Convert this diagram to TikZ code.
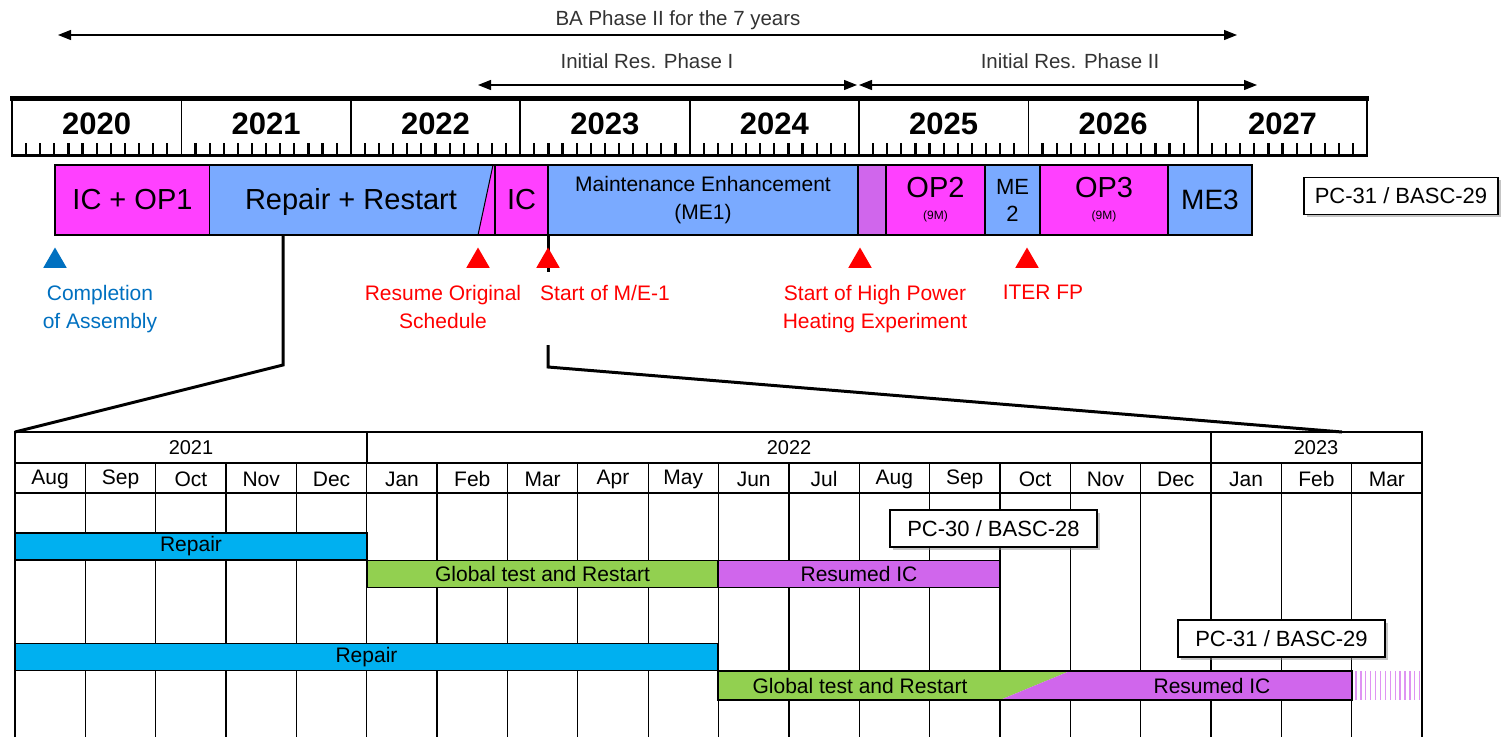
\documentclass[tikz,border=0pt]{standalone}
\usepackage{fontspec}
\setmainfont{Liberation Sans}
\usepackage{xcolor}
\usetikzlibrary{arrows.meta,calc,positioning,shapes.geometric,shadows}
\definecolor{opmag}{RGB}{255,64,255}
\definecolor{meblue}{RGB}{122,170,255}
\definecolor{icviolet}{RGB}{208,102,236}
\definecolor{repcyan}{RGB}{0,176,240}
\definecolor{gtgreen}{RGB}{146,208,80}
\definecolor{asmblue}{RGB}{0,112,192}

\begin{document}
\begin{tikzpicture}[x=1pt, y=-1pt, >={Triangle[length=13pt,width=10pt]},
  durarrow/.style={<->, line width=1.2pt},
  toplbl/.style={font=\fontsize{20.5}{24}\selectfont, text=black!80, inner sep=0pt},
  phase/.style={draw, line width=1.6pt, minimum height=70pt, inner sep=0pt, font=\fontsize{29}{30}\selectfont},
  milestone/.style={regular polygon, regular polygon sides=3, inner sep=0pt, minimum size=27pt},
  msl/.style={font=\fontsize{21}{28}\selectfont, align=center, inner sep=0pt, anchor=north},
  zoomline/.style={line width=3pt},
  tabline/.style={line width=1.3pt},
  bar/.style={draw, line width=1.3pt, minimum height=27pt, inner sep=0pt, font=\fontsize{21}{21}\selectfont},
  pcbox/.style={draw, line width=1.3pt, fill=white, minimum width=207pt, minimum height=37pt, inner sep=0pt,
    font=\fontsize{22}{22}\selectfont, drop shadow={shadow xshift=2.5pt, shadow yshift=-2.5pt, fill=black!45}}]
  \useasboundingbox (0,0) rectangle (1501,737);
  % spans over the top
  \coordinate (baL) at (58,35);
  \coordinate (baR) at (1237,35);
  \coordinate (ph1L) at (478,85);
  \coordinate (ph1R) at (857,85);
  \coordinate (ph2L) at (859,85);
  \coordinate (ph2R) at (1257,85);
  \draw[durarrow] (baL) -- (baR);
  \draw[durarrow] (ph1L) -- (ph1R);
  \draw[durarrow] (ph2L) -- (ph2R);
  \node[toplbl] (batxt) at (678,20) {BA Phase II for the 7 years};
  \node[toplbl] (ph1txt) at (647,61) {Initial Res. Phase I};
  \node[toplbl] (ph2txt) at (1070,61) {Initial Res. Phase II};
  % year ruler
  \draw[line width=1.2pt] (12,98) rectangle (1367,155);
  \draw[line width=5pt] (10,98) -- (1369,98);
  \draw[line width=3pt] (11,155) -- (1368,155);
  \foreach \yr [count=\i from 0] in {2020,...,2027} {
    \node[font=\bfseries\fontsize{31}{31}\selectfont, inner sep=0pt] (y\yr) at ({12+(\i+0.5)*169.4},124) {\yr};
    \foreach \m in {1,...,11}
      \draw[line width=2.2pt] ({12+\i*169.4+\m*169.4/12},155) -- ++(0,-12);
  }
  \foreach \i in {1,...,7}
    \draw[line width=1.8pt] ({12+\i*169.4},98) -- ({12+\i*169.4},155);
  % phase bar
  \node[phase, fill=opmag, minimum width=155pt] (icop) at (132.5,200) {IC + OP1};
  \fill[meblue] (210,165) -- (493,165) -- (478,235) -- (210,235) -- cycle;
  \fill[opmag] (493,165) -- (495,165) -- (495,235) -- (478,235) -- cycle;
  \draw[line width=1pt] (493,165) -- (478,235);
  \node[phase, draw=none] (reprs) at (351,202) {Repair + Restart};
  \node[phase, fill=opmag, minimum width=53pt] (ic) at (521.5,200) {IC};
  \node[phase, fill=meblue, minimum width=310pt, align=center, font=\fontsize{21}{28}\selectfont] (me1) at (703,200) {Maintenance Enhancement\\(ME1)};
  \node[phase, fill=icviolet, minimum width=28pt] (hp) at (872,200) {};
  \node[phase, fill=opmag, minimum width=99pt, align=center] (op2) at (935.5,200) {OP2\\[-8pt]{\fontsize{12}{12}\selectfont(9M)}};
  \node[phase, fill=meblue, minimum width=55pt, align=center, font=\fontsize{22}{27}\selectfont] (me2) at (1012.5,200) {ME\\2};
  \node[phase, fill=opmag, minimum width=128pt, align=center] (op3) at (1104,200) {OP3\\[-8pt]{\fontsize{12}{12}\selectfont(9M)}};
  \node[phase, fill=meblue, minimum width=84pt, font=\fontsize{28}{30}\selectfont] (me3) at (1210,200) {ME3};
  \draw[line width=1.6pt] (55,165) rectangle (1252,235);
  \node[pcbox, minimum width=194pt] (pc31top) at (1401,196) {PC-31 / BASC-29};
  % zoom lines down to the table
  \coordinate (rpbot) at (283,235);
  \coordinate (rpbend) at (283,365);
  \coordinate (tabNW) at (15,432);
  \coordinate (mebot) at (548,235);
  \coordinate (mestop) at (548,272);
  \coordinate (mestart) at (548,345);
  \coordinate (mebend) at (548,367);
  \coordinate (tabend) at (1342,432);
  \draw[zoomline] (rpbot) -- (rpbend) -- (tabNW);
  \draw[zoomline] (mebot) -- (mestop);
  \draw[zoomline] (mestart) -- (mebend) -- (tabend);
  % milestones
  \node[milestone, fill=asmblue] (tasm) at (55,261) {};
  \node[milestone, fill=red] (tres) at (478,261) {};
  \node[milestone, fill=red] (tme) at (548,261) {};
  \node[milestone, fill=red] (thp) at (860,261) {};
  \node[milestone, fill=red] (titer) at (1027,261) {};
  \node[msl, text=asmblue] (lasm) at (100,285) {Completion\\of Assembly};
  \node[msl, text=red] (lres) at (443,285) {Resume Original\\Schedule};
  \node[msl, text=red, anchor=north west] (lme) at (540,285) {Start of M/E-1};
  \node[msl, text=red] (lhp) at (875,285) {Start of High Power\\Heating Experiment};
  \node[msl, text=red] (liter) at (1043,285) {ITER FP};
  % monthly table
  \draw[tabline] (15,737) -- (15,432) -- (1422,432) -- (1422,737);
  \draw[tabline] (15,463) -- (1422,463);
  \draw[tabline] (15,493) -- (1422,493);
  \draw[tabline] (367,432) -- (367,463);
  \draw[tabline] (1211,432) -- (1211,463);
  \foreach \i in {1,...,19}
    \draw[tabline] ({15+\i*70.35},463) -- ({15+\i*70.35},737);
  \node[font=\fontsize{20}{20}\selectfont] (h2021) at (191,448) {2021};
  \node[font=\fontsize{20}{20}\selectfont] (h2022) at (789,448) {2022};
  \node[font=\fontsize{20}{20}\selectfont] (h2023) at (1316,448) {2023};
  \foreach \m [count=\i from 0] in {Aug,Sep,Oct,Nov,Dec,Jan,Feb,Mar,Apr,May,Jun,Jul,Aug,Sep,Oct,Nov,Dec,Jan,Feb,Mar}
    \node[font=\fontsize{21}{21}\selectfont] (mo\i) at ({15+(\i+0.5)*70.35},479) {\m};
  % bars
  \node[bar, fill=repcyan, minimum width=352pt] (rep1) at (191,546.5) {Repair};
  \node[bar, fill=gtgreen, minimum width=351pt] (gt1) at (542.5,574) {Global test and Restart};
  \node[bar, fill=icviolet, minimum width=282pt] (ric1) at (859,574) {Resumed IC};
  \node[pcbox] (pc30) at (993.5,528.5) {PC-30 / BASC-28};
  \node[bar, fill=repcyan, minimum width=703pt] (rep2) at (366.5,657) {Repair};
  \fill[gtgreen] (718,671) -- (1070,671) -- (1000,700) -- (718,700) -- cycle;
  \fill[icviolet] (1000,700) -- (1070,671) -- (1352,671) -- (1352,700) -- cycle;
  \foreach \s in {0,...,13}
    \draw[icviolet!70, line width=1.3pt] ({1356+\s*4.9},671) -- ({1356+\s*4.9},700);
  \draw[line width=1.3pt] (718,671) rectangle (1352,700);
  \node[font=\fontsize{21}{21}\selectfont] (gt2) at (860,686) {Global test and Restart};
  \node[font=\fontsize{21}{21}\selectfont] (ric2) at (1212,686) {Resumed IC};
  \node[pcbox] (pc31) at (1281.5,638.5) {PC-31 / BASC-29};
\end{tikzpicture}
\end{document}
